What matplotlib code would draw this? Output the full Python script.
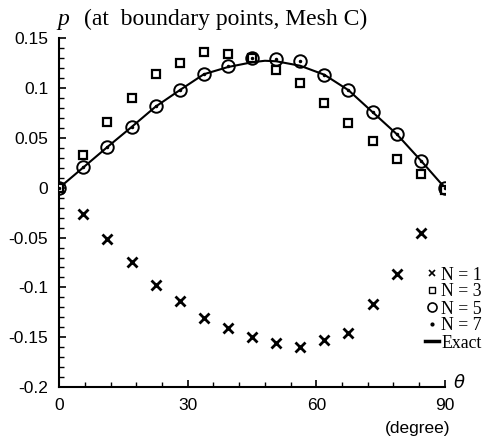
import numpy as np
import matplotlib.pyplot as plt
from matplotlib.ticker import MultipleLocator, FixedLocator
from matplotlib.lines import Line2D

# boundary angles (degree)
theta = [0, 5.625, 11.25, 16.875, 22.5, 28.125, 33.75, 39.375, 45,
         50.625, 56.25, 61.875, 67.5, 73.125, 78.75, 84.375, 90]

p_n1 = [0, -0.0265, -0.0511, -0.0743, -0.0978, -0.114, -0.1307, -0.1408, -0.150,
        -0.156, -0.160, -0.153, -0.1457, -0.117, -0.087, -0.045, 0]
p_n3 = [0, 0.033, 0.066, 0.0904, 0.1146, 0.1257, 0.136, 0.1338, 0.130,
        0.118, 0.1055, 0.0854, 0.065, 0.0467, 0.029, 0.0138, -0.002]
p_n5 = [0, 0.0205, 0.041, 0.061, 0.0817, 0.098, 0.1146, 0.122, 0.130,
        0.129, 0.1276, 0.113, 0.098, 0.076, 0.054, 0.0272, 0]
p_n7 = [0, 0.0205, 0.041, 0.061, 0.0817, 0.098, 0.1146, 0.122, 0.130,
        0.129, 0.1276, 0.113, 0.098, 0.076, 0.054, 0.0272, 0]

theta_exact = [0, 5.625, 11.25, 16.875, 22.5, 28.125, 33.75, 39.375, 45, 48,
               50.625, 56.25, 61.875, 67.5, 73.125, 78.75, 84.375, 90]
p_exact = [0, 0.0205, 0.041, 0.061, 0.0815, 0.098, 0.114, 0.1212, 0.126, 0.1275,
           0.127, 0.1225, 0.1135, 0.098, 0.076, 0.054, 0.0275, 0]

sans = 'Liberation Sans'
serif = 'Liberation Serif'

fig = plt.figure(figsize=(4.84, 4.46), dpi=100)
ax = fig.add_axes([0.1225, 0.1323, 0.7965, 0.7817])

ax.plot(theta_exact, p_exact, color='black', lw=1.5, zorder=2)
ax.plot(theta, p_n1, 'x', color='black', ms=7, mew=2, zorder=3)
ax.plot(theta, p_n3, 's', mfc='white', mec='black', ms=5.8, mew=1.6, zorder=3)
ax.plot(theta, p_n5, 'o', mfc='none', mec='black', ms=9, mew=1.4, zorder=4)
ax.plot(theta, p_n7, '.', color='black', ms=3, zorder=5)

ax.set_xlim(0, 90)
ax.set_ylim(-0.2, 0.15)
ax.spines['top'].set_visible(False)
ax.spines['right'].set_visible(False)
for s in ['left', 'bottom']:
    ax.spines[s].set_linewidth(1.5)

ax.xaxis.set_major_locator(FixedLocator([0, 30, 60, 90]))
ax.xaxis.set_minor_locator(MultipleLocator(6))
ax.yaxis.set_major_locator(FixedLocator([-0.2, -0.15, -0.1, -0.05, 0, 0.05, 0.1, 0.15]))
ax.yaxis.set_minor_locator(MultipleLocator(0.01))
ax.set_yticklabels(['-0.2', '-0.15', '-0.1', '-0.05', '0', '0.05', '0.1', '0.15'])
ax.tick_params(which='major', direction='in', length=5, width=1.2, pad=8,
               labelsize=12.5)
ax.tick_params(which='minor', direction='in', length=3.5, width=1.0)
for lbl in ax.get_xticklabels() + ax.get_yticklabels():
    lbl.set_fontfamily(sans)

# title and axis labels
fig.text(57 / 484, 1 - 25 / 446, 'p', fontfamily=serif, fontstyle='italic',
         fontsize=17, va='baseline')
fig.text(84 / 484, 1 - 25 / 446, '(at  boundary points, Mesh C)', fontfamily=serif,
         fontsize=17, va='baseline')
fig.text(459 / 484, 1 - 383 / 446, r'$\theta$', fontsize=13, ha='center', va='center',
         fontstyle='italic')
fig.text(418 / 484, 1 - 428 / 446, '(degree)', fontfamily=sans, fontsize=12.5,
         ha='center', va='center')

handles = [
    Line2D([], [], ls='none', marker='x', color='black', ms=4.5, mew=1.2),
    Line2D([], [], ls='none', marker='s', mfc='white', mec='black', ms=5, mew=1),
    Line2D([], [], ls='none', marker='o', mfc='none', mec='black', ms=6.5, mew=1.2),
    Line2D([], [], ls='none', marker='.', color='black', ms=4),
    Line2D([], [], color='black', lw=2.5),
]
labels = ['N = 1', 'N = 3', 'N = 5', 'N = 7', 'Exact']
fig.legend(handles, labels, loc='center right', bbox_to_anchor=(1.0, 1 - 309 / 446),
           frameon=False, prop={'family': serif, 'size': 12.8}, handlelength=0.8,
           handletextpad=0.15, labelspacing=0.0, borderpad=0, borderaxespad=0.1)

fig.savefig('out.png', dpi=100)
